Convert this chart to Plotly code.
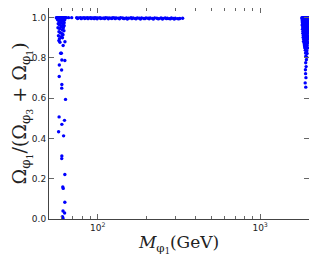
import plotly.graph_objects as go

# Left resonance cluster (M ~ 55-63 GeV)
left_mass = [55.5, 56.0, 56.5, 57.0, 57.5, 58.0, 58.5, 59.0, 59.5, 60.0, 60.5, 61.0, 61.5, 62.0, 62.5, 63.0,
             56.5, 57.5, 58.5, 59.5, 60.5, 61.5, 57.0, 58.0, 59.0, 60.0, 61.0, 62.0, 56.8, 58.2, 59.3, 60.4,
             61.3, 57.6, 58.8, 60.2, 61.8, 57.2, 59.5, 61.0, 58.0, 60.5, 62.0, 62.5, 56.2, 57.9, 59.1, 60.7,
             57.9, 59.0, 59.6, 57.5, 62.7, 60.0, 62.6, 57.8, 59.8, 60.0, 59.9, 63.2, 57.7, 62.3, 57.3, 60.0,
             61.5, 60.0, 59.9, 62.6, 60.8, 61.2, 62.6, 61.0, 62.4, 60.5, 61.0, 58.4, 61.1]
left_ratio = [1.0, 1.0, 1.0, 1.0, 1.0, 1.0, 1.0, 1.0, 1.0, 1.0, 1.0, 1.0, 1.0, 1.0, 1.0, 1.0,
              0.99, 0.985, 0.99, 0.98, 0.99, 0.985, 0.97, 0.965, 0.975, 0.96, 0.97, 0.975, 0.95, 0.945, 0.955, 0.94,
              0.95, 0.93, 0.925, 0.92, 0.935, 0.91, 0.905, 0.915, 0.895, 0.90, 0.96, 0.99, 0.995, 0.975, 0.985, 0.955,
              0.765, 0.823, 0.823, 0.886, 0.88, 0.79, 0.787, 0.708, 0.74, 0.668, 0.65, 0.594, 0.507, 0.49, 0.433, 0.47,
              0.413, 0.313, 0.30, 0.221, 0.159, 0.152, 0.083, 0.04, 0.03, 0.012, 0.004, 0.878, 0.862]

# Flat band at ratio ~ 1 (M ~ 63-333 GeV)
band_mass = [64, 66, 69, 74, 76, 78, 80, 82, 84, 86, 88, 90, 92, 94, 96, 98, 100, 103, 106, 109,
             112, 115, 118, 121, 124, 127, 130, 134, 138, 142, 146, 150, 155, 160, 165, 170, 175, 180, 186, 192,
             198, 204, 210, 217, 224, 231, 238, 245, 252, 260, 268, 276, 284, 292, 300, 310, 320, 333,
             75, 79, 83, 87, 91, 95, 99, 104, 110, 116, 122, 128, 136, 144, 152, 162, 172, 183, 195, 207,
             220, 235, 250, 265, 280, 296, 315]
band_ratio = [1.0, 1.0, 1.0, 1.0, 0.999, 1.0, 0.999, 1.0, 0.998, 1.0, 0.999, 1.0, 0.998, 0.999, 1.0, 0.998, 0.999, 1.0, 0.997, 0.999,
              1.0, 0.998, 0.999, 0.997, 1.0, 0.998, 0.999, 0.997, 1.0, 0.998, 0.996, 0.999, 0.997, 1.0, 0.998, 0.996, 0.999, 0.997, 0.998, 0.996,
              0.999, 0.997, 0.998, 0.996, 0.999, 0.997, 0.995, 0.998, 0.996, 0.998, 0.997, 0.995, 0.998, 0.996, 0.997, 0.995, 0.996, 0.997,
              0.996, 0.995, 0.996, 0.995, 0.996, 0.995, 0.994, 0.996, 0.995, 0.994, 0.996, 0.995, 0.994, 0.996, 0.993, 0.995, 0.994, 0.993, 0.995, 0.994,
              0.993, 0.994, 0.993, 0.995, 0.994, 0.993, 0.994]

# Heavy cluster (M ~ 1800-1980 GeV)
right_mass = [1808, 1826, 1847, 1868, 1889, 1911, 1934, 1957, 1976, 1812, 1838, 1861, 1883, 1902, 1926, 1949, 1969,
              1817, 1833, 1856, 1879, 1897, 1921, 1944, 1966, 1821, 1843, 1865, 1893, 1916, 1939, 1961, 1974,
              1815, 1852, 1874, 1887, 1909, 1931, 1953, 1971, 1829, 1849, 1871, 1895, 1918, 1941, 1963,
              1824, 1858, 1881, 1906, 1928, 1952, 1970, 1836, 1862, 1885, 1913, 1936, 1959,
              1832, 1866, 1891, 1919, 1946, 1967, 1845, 1872, 1899, 1924, 1955, 1841, 1877, 1904, 1933, 1962,
              1854, 1886, 1914, 1943, 1968, 1850, 1894, 1923, 1951, 1869, 1907, 1938, 1964, 1876, 1917, 1948,
              1882, 1929, 1958, 1898, 1940, 1903, 1947, 1912, 1937, 1927, 1908, 1920, 1901]
right_ratio = [1.0, 1.0, 1.0, 1.0, 1.0, 1.0, 1.0, 1.0, 1.0, 0.993, 0.995, 0.991, 0.994, 0.992, 0.996, 0.993, 0.995,
               0.984, 0.987, 0.982, 0.986, 0.983, 0.985, 0.981, 0.988, 0.975, 0.972, 0.977, 0.974, 0.971, 0.976, 0.973, 0.979,
               0.963, 0.965, 0.961, 0.967, 0.962, 0.966, 0.964, 0.968, 0.954, 0.951, 0.956, 0.952, 0.957, 0.953, 0.955,
               0.943, 0.941, 0.945, 0.942, 0.946, 0.944, 0.947, 0.932, 0.935, 0.931, 0.934, 0.936, 0.933,
               0.922, 0.925, 0.921, 0.924, 0.923, 0.926, 0.912, 0.915, 0.911, 0.914, 0.913, 0.902, 0.905, 0.901, 0.904, 0.903,
               0.892, 0.894, 0.891, 0.893, 0.895, 0.881, 0.884, 0.882, 0.883, 0.871, 0.873, 0.872, 0.874, 0.861, 0.863, 0.862,
               0.851, 0.853, 0.849, 0.838, 0.836, 0.824, 0.822, 0.808, 0.804, 0.791, 0.776, 0.757, 0.741,
               ]
right_mass += [1905, 1915, 1895, 1910]
right_ratio += [0.722, 0.702, 0.676, 0.655]

x_tickvals = [100, 1000]
x_ticktext = ["10<sup>2</sup>", "10<sup>3</sup>"]
x_minor = [60, 70, 80, 90, 200, 300, 400, 500, 600, 700, 800, 900]
y_tickvals = [0.0, 0.2, 0.4, 0.6, 0.8, 1.0]
y_ticktext = ["0.0", "0.2", "0.4", "0.6", "0.8", "1.0"]

fig = go.Figure()
marker = dict(color="#0000ff", size=3.4, line=dict(width=0))
for xs, ys in [(left_mass, left_ratio), (band_mass, band_ratio), (right_mass, right_ratio)]:
    fig.add_trace(go.Scatter(x=xs, y=ys, mode="markers", marker=marker, showlegend=False,
                             hoverinfo="skip"))

axis_line = dict(showline=True, linecolor="#444444", linewidth=1, mirror="allticks",
                 ticks="inside", tickcolor="#666666", showgrid=False, zeroline=False)

fig.update_xaxes(type="log", range=[1.699, 3.301], tickvals=x_tickvals, ticktext=x_ticktext,
                 ticklen=5, tickfont=dict(family="DejaVu Sans", size=9, color="#222222"),
                 minor=dict(tickvals=x_minor, ticks="inside", ticklen=3, tickcolor="#666666"),
                 title=dict(text="<i>M</i><sub>φ<sub>1</sub></sub>(GeV)",
                            font=dict(family="DejaVu Serif", size=17, color="#222222"), standoff=4),
                 **axis_line)
fig.update_yaxes(range=[0, 1.048], tickvals=y_tickvals, ticktext=y_ticktext, ticklen=5,
                 tickfont=dict(family="DejaVu Sans", size=9, color="#222222"),
                 title=dict(text="Ω<sub>φ<sub>1</sub></sub>/(Ω<sub>φ<sub>3</sub></sub> + Ω<sub>φ<sub>1</sub></sub>)",
                            font=dict(family="DejaVu Serif", size=19, color="#222222"), standoff=3),
                 **axis_line)

# page body has an 8px default margin; figure sized/offset to compensate
fig.update_layout(width=309, height=256, margin=dict(l=41, r=8, t=0, b=45),
                  plot_bgcolor="white", paper_bgcolor="white")
fig.update_xaxes(automargin=False)
fig.update_yaxes(automargin=False)

fig.write_html("out.html")
